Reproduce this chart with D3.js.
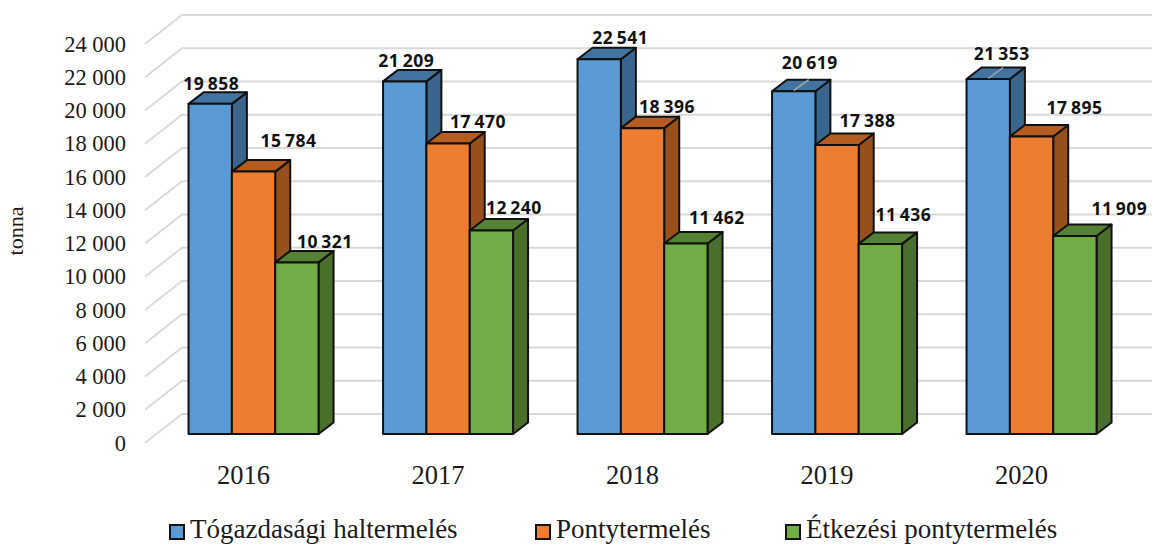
<!DOCTYPE html>
<html>
<head>
<meta charset="utf-8">
<script src="https://cdn.jsdelivr.net/npm/d3@7"></script>
<style>
  html, body { margin: 0; padding: 0; background: #fff; overflow: hidden; }
  text { font-family: "Liberation Serif", serif; fill: #1a1a1a; }
  .value { font-family: "Noto Sans", sans-serif; font-weight: 700; font-size: 17.5px; letter-spacing: 0.5px; fill: #111; }
</style>
</head>
<body>
<div class="canvas"></div>
<script>
// data
const years = ['2016', '2017', '2018', '2019', '2020']
const seriesNames = ['Tógazdasági haltermelés', 'Pontytermelés', 'Étkezési pontytermelés']
const pondFish = [19858, 21209, 22541, 20619, 21353]
const carp = [15784, 17470, 18396, 17388, 17895]
const foodCarp = [10321, 12240, 11462, 11436, 11909]
const yTicks = d3.range(0, 24001, 2000)
const leaderYears = ['2019', '2020'] // the blue labels with a grey leader line

// label offsets from the bar's top centre, one row per series
const labelOffsets = [
  [[1, -20], [1.5, -21], [21, -21], [16, -28], [13.5, -25]],
  [[35, -31], [30, -22], [24.5, -21], [30.5, -24], [43, -29]],
  [[28, -21], [22.5, -23], [31, -26], [23, -29], [44.5, -27]]
]

const seriesValues = [pondFish, carp, foodCarp]
const colors = [
  { front: '#5b9bd5', top: '#4273a1', side: '#3a658c' },
  { front: '#ed7d31', top: '#b55c22', side: '#97501c' },
  { front: '#70ad47', top: '#558135', side: '#4a6e2b' }
]

// dimension
const dims = { width: 1152, height: 544 }
const wall = { left: 182, right: 1152, depthX: 37, depthY: 29 }
const bar = { depthX: 15, depthY: 11.5, floor: 434, groupWidth: 130 }

const svg = d3.select('.canvas')
  .append('svg')
  .attr('width', dims.width)
  .attr('height', dims.height)
  .style('display', 'block')

// y scale on the back wall, the floor of the bars sits a bit in front of it
const y = d3.scaleLinear().domain([0, 24000]).range([414, 15])
const barHeight = v => y(0) - y(v)

const x0 = d3.scaleBand().domain(years).range([156.3, 1128.8])
const x1 = d3.scaleBand()
  .domain(d3.range(seriesNames.length))
  .range([(x0.bandwidth() - bar.groupWidth) / 2, (x0.bandwidth() + bar.groupWidth) / 2])

const fmt = d3.formatLocale({ decimal: ',', thousands: '\u00a0', grouping: [3], currency: ['', ''] }).format(',d')
const fmtLabel = d3.formatLocale({ decimal: ',', thousands: '\u2009', grouping: [3], currency: ['', ''] }).format(',d')

// grid: slanted floor part + back wall part
svg.append('g')
  .selectAll('path')
  .data(yTicks)
  .join('path')
    .attr('d', d => `M${wall.left - wall.depthX},${y(d) + wall.depthY}L${wall.left},${y(d)}L${wall.right},${y(d)}`)
    .attr('fill', 'none')
    .attr('stroke', '#d9d9d9')
    .attr('stroke-width', 1.8)

// y axis
const yFront = y.copy().range(y.range().map(r => r + wall.depthY))
const yAxis = d3.axisLeft(yFront).tickValues(yTicks).tickSize(0).tickPadding(19).tickFormat(fmt)
svg.append('g')
  .attr('transform', `translate(${wall.left - wall.depthX}, 0)`)
  .call(yAxis)
  .call(g => g.select('.domain').remove())
  .selectAll('text')
    .style('font-size', '22.5px')
    .style('font-family', '"Liberation Serif", serif')
    .attr('fill', '#1a1a1a')

svg.append('text')
  .attr('transform', 'translate(23, 231) rotate(-90)')
  .attr('text-anchor', 'middle')
  .style('font-size', '22px')
  .text('tonna')

// bars
const bars = seriesNames.flatMap((name, s) => years.map((year, i) => ({
  year, s, i, value: seriesValues[s][i]
})))

const barX = d => x0(d.year) + x1(d.s)
const barTop = d => bar.floor - barHeight(d.value)
const w = x1.bandwidth()

const barGroups = svg.append('g')
  .selectAll('g')
  .data(bars)
  .join('g')
    .attr('stroke', '#111')
    .attr('stroke-width', 2)
    .attr('stroke-linejoin', 'round')

barGroups.append('path') // side
  .attr('fill', d => colors[d.s].side)
  .attr('d', d => {
    const r = barX(d) + w
    return `M${r},${barTop(d)}l${bar.depthX},${-bar.depthY}L${r + bar.depthX},${bar.floor - bar.depthY}L${r},${bar.floor}Z`
  })

barGroups.append('path') // top
  .attr('fill', d => colors[d.s].top)
  .attr('d', d => `M${barX(d)},${barTop(d)}l${bar.depthX},${-bar.depthY}h${w}l${-bar.depthX},${bar.depthY}Z`)

barGroups.append('rect') // front
  .attr('fill', d => colors[d.s].front)
  .attr('x', barX)
  .attr('y', barTop)
  .attr('width', w)
  .attr('height', d => barHeight(d.value))

// leader lines
svg.append('g')
  .selectAll('line')
  .data(bars.filter(d => d.s === 0 && leaderYears.includes(d.year)))
  .join('line')
    .attr('x1', d => barX(d) + w / 2)
    .attr('y1', d => barTop(d) - 0.5)
    .attr('x2', d => barX(d) + w / 2 + bar.depthX)
    .attr('y2', d => barTop(d) - bar.depthY)
    .attr('stroke', '#a6a6a6')
    .attr('stroke-width', 1.5)

// value labels
svg.append('g')
  .selectAll('text')
  .data(bars)
  .join('text')
    .attr('class', 'value')
    .attr('text-anchor', 'middle')
    .attr('dy', '0.35em')
    .attr('x', d => barX(d) + w / 2 + labelOffsets[d.s][d.i][0])
    .attr('y', d => barTop(d) + labelOffsets[d.s][d.i][1])
    .text(d => fmtLabel(d.value))

// x axis, the labels sit left of the bar groups
const xAxis = d3.axisBottom(x0).tickSize(0).tickPadding(0)
svg.append('g')
  .attr('transform', 'translate(-10, 475)')
  .call(xAxis)
  .call(g => g.select('.domain').remove())
  .selectAll('text')
    .attr('dy', '0.35em')
    .attr('y', 0)
    .style('font-size', '26.5px')
    .style('font-family', '"Liberation Serif", serif')
    .attr('fill', '#1a1a1a')

// legend
const legendX = [170, 536, 786]
const legend = svg.append('g')
  .selectAll('g')
  .data(seriesNames)
  .join('g')
    .attr('transform', (d, i) => `translate(${legendX[i]}, 525)`)

legend.append('rect')
  .attr('width', 14)
  .attr('height', 14)
  .attr('fill', (d, i) => colors[i].front)
  .attr('stroke', '#111')
  .attr('stroke-width', 2)

legend.append('text')
  .attr('x', 20)
  .attr('y', 13)
  .style('font-size', '27px')
  .text(d => d)
</script>
</body>
</html>
